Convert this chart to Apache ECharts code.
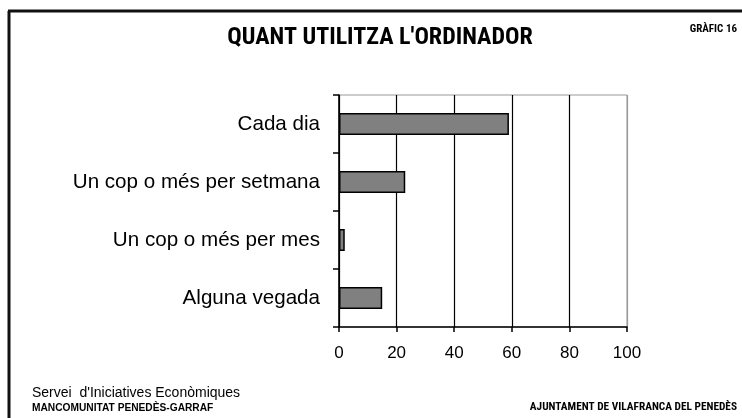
<!DOCTYPE html>
<html>
<head>
<meta charset="utf-8">
<script src="https://cdn.jsdelivr.net/npm/echarts@6/dist/echarts.min.js"></script>
<style>
html,body{margin:0;padding:0;background:#fff;}
#chart{width:742px;height:418px;}
</style>
</head>
<body>
<div id="chart"></div>
<script>
var categories = ["Cada dia", "Un cop o més per setmana", "Un cop o més per mes", "Alguna vegada"];
var values = [59, 23, 2, 15];
var xTicks = [0, 20, 40, 60, 80, 100];
var titleText = "QUANT UTILITZA L'ORDINADOR";
var chartNo = "GRÀFIC 16";
var footLeft1 = "Servei  d'Iniciatives Econòmiques";
var footLeft2 = "MANCOMUNITAT PENEDÈS-GARRAF";
var footRight = "AJUNTAMENT DE VILAFRANCA DEL PENEDÈS";

var narrow = '"Liberation Sans Narrow", "Arial Narrow", "Roboto Condensed", "Liberation Sans", Arial, sans-serif';
var sans = '"Liberation Sans", Arial, sans-serif';

var chart = echarts.init(document.getElementById('chart'), null, {renderer: 'canvas'});
chart.setOption({
  animation: false,
  backgroundColor: '#fff',
  grid: {
    left: 339, right: 115, top: 95, bottom: 91,
    show: true, borderColor: '#999', borderWidth: 1, backgroundColor: 'transparent'
  },
  xAxis: {
    type: 'value', min: xTicks[0], max: xTicks[xTicks.length - 1], interval: 20,
    axisLine: {show: true, lineStyle: {color: '#000', width: 1.5}},
    axisTick: {show: true, length: 5, lineStyle: {color: '#000', width: 1.5}},
    axisLabel: {color: '#000', fontFamily: sans, fontSize: 17, margin: 18},
    splitLine: {show: true, lineStyle: {color: ['#000', '#000', '#000', '#000', '#000', '#999'], width: 1.2}}
  },
  yAxis: {
    type: 'category', data: categories, inverse: true,
    axisLine: {show: true, lineStyle: {color: '#000', width: 1.5}},
    axisTick: {show: true, length: 6, lineStyle: {color: '#000', width: 1.5}},
    axisLabel: {color: '#000', fontFamily: sans, fontSize: 20.6, margin: 19},
    splitLine: {show: false}
  },
  series: [{
    type: 'bar', data: values, barWidth: 22,
    itemStyle: {color: '#808080', borderColor: '#000', borderWidth: 1.5}
  }],
  graphic: [
    {type: 'line', shape: {x1: 9, y1: 11, x2: 9, y2: 418}, style: {stroke: '#111', lineWidth: 3}},
    {type: 'line', shape: {x1: 8, y1: 11, x2: 742, y2: 11}, style: {stroke: '#111', lineWidth: 3}},
    {type: 'text', x: 380, y: 38, style: {text: titleText, font: 'bold 24px ' + narrow, fill: '#000', textAlign: 'center', textVerticalAlign: 'middle'}},
    {type: 'text', x: 737, y: 29, style: {text: chartNo, font: 'bold 11px ' + narrow, fill: '#000', textAlign: 'right', textVerticalAlign: 'middle'}},
    {type: 'text', x: 32, y: 393, style: {text: footLeft1, font: '14px ' + sans, fill: '#000', textAlign: 'left', textVerticalAlign: 'middle'}},
    {type: 'text', x: 32, y: 408, style: {text: footLeft2, font: 'bold 10.2px ' + sans, fill: '#000', textAlign: 'left', textVerticalAlign: 'middle'}},
    {type: 'text', x: 737, y: 407, style: {text: footRight, font: 'bold 11.3px ' + narrow, fill: '#000', textAlign: 'right', textVerticalAlign: 'middle'}}
  ]
});
</script>
</body>
</html>
